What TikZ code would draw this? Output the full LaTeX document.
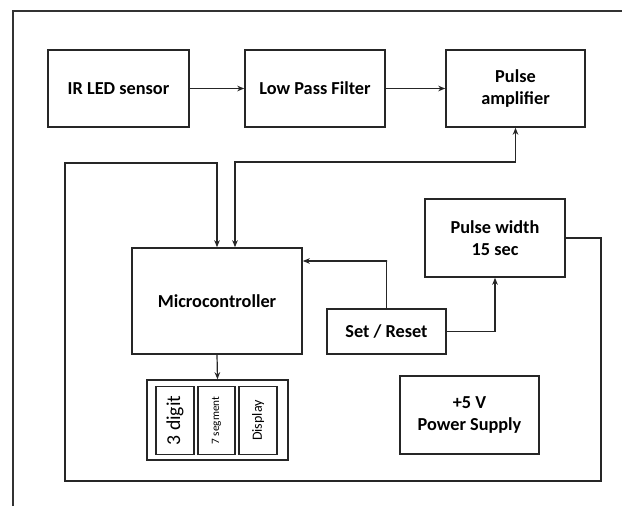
\documentclass[tikz,border=0pt]{standalone}
\usepackage{fontspec}
\setmainfont{Carlito}
\usetikzlibrary{arrows.meta,calc,positioning}

\begin{document}
\begin{tikzpicture}[x=0.025cm, y=-0.025cm,
  blockbox/.style={draw=black!85,line width=1.1pt,inner sep=1pt,align=center,font=\fontsize{13}{16}\selectfont\bfseries},
  digitbox/.style={draw=black!85,line width=0.9pt,minimum width=0.9cm,minimum height=1.7cm,inner sep=0pt},
  arrowstyle/.style={-{Stealth[length=5pt,width=4pt]},line width=0.85pt,draw=black!85},
  wire/.style={line width=0.85pt,draw=black!85}]

 \useasboundingbox (0,0) rectangle (622,506);
 \draw[line width=1.5pt,black!80] (13,506) -- (13,11) -- (622,11);

 \node[blockbox,minimum width=3.525cm,minimum height=1.925cm] (ir) at (118.5,88.5) {IR LED sensor};
 \node[blockbox,minimum width=3.5cm,minimum height=1.925cm] (lpf) at (315,88.5) {Low Pass Filter};
 \node[blockbox,minimum width=3.475cm,minimum height=1.925cm] (amp) at (515.5,88.5) {Pulse\\amplifier};

 \node[blockbox,minimum width=4.25cm,minimum height=2.65cm] (mcu) at (217,301) {Microcontroller};
 \node[blockbox,minimum width=3.5cm,minimum height=1.95cm] (pw) at (495,238) {Pulse width\\15 sec};
 \node[blockbox,minimum width=2.975cm,minimum height=1.125cm] (sr) at (386.5,331.5) {Set / Reset};
 \node[blockbox,minimum width=3.475cm,minimum height=1.95cm] (ps) at (469.5,415) {+5 V\\Power Supply};

 % display unit
 \node[draw=black!85,line width=1.1pt,minimum width=3.525cm,minimum height=2cm] (disp) at (217.5,420) {};
 \node[digitbox,minimum width=0.95cm] (d1) at (175,420.5) {\rotatebox{90}{\fontsize{14}{16}\selectfont 3 digit}};
 \node[digitbox,minimum width=0.925cm] (d2) at (216.5,420.5) {\rotatebox{90}{\fontsize{8}{9}\selectfont 7 segment}};
 \node[digitbox,minimum width=0.95cm] (d3) at (258,420.5) {\rotatebox{90}{\fontsize{10}{12}\selectfont Display}};

 \coordinate (k1) at (601,481);
 \coordinate (k2) at (65,163);
 \coordinate (j1) at (235,162);
 \coordinate (j2) at (387,261);

 \draw[arrowstyle] (ir) -- (lpf);
 \draw[arrowstyle] (lpf) -- (amp);
 \draw[arrowstyle,{Stealth[length=5pt,width=4pt]}-{Stealth[length=5pt,width=4pt]}] (amp.south) |- (j1) -- (j1 |- mcu.north);
 \draw[arrowstyle] (pw.east) -| (k1) -| (k2) -| (mcu.north);
 \draw[arrowstyle] (sr.north) |- (j2) -- (j2 -| mcu.east);
 \draw[arrowstyle] (sr.east) -| (pw.south);
 \draw[arrowstyle] (mcu.south) -- (disp.north);
\end{tikzpicture}
\end{document}
